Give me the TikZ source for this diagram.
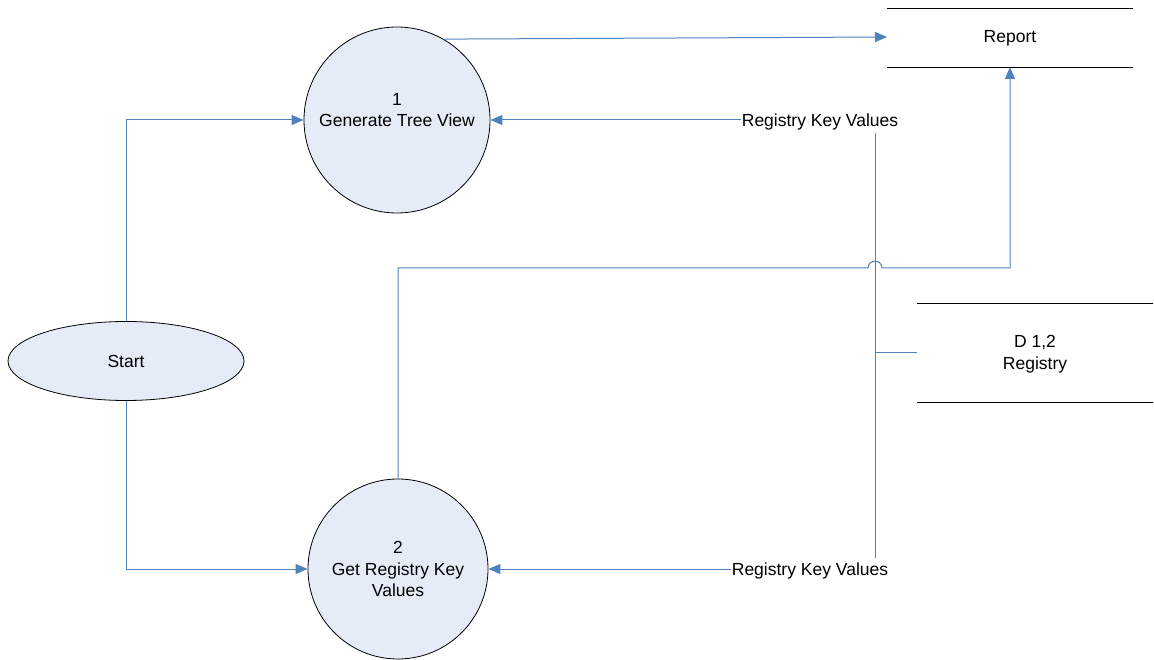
\documentclass[tikz,border=0pt]{standalone}
\usepackage{fontspec}
\setmainfont{Liberation Sans}
\usetikzlibrary{arrows.meta,shapes.geometric}
\definecolor{flow}{RGB}{79,129,189}
\definecolor{procfill}{RGB}{230,236,247}
\tikzset{
  every node/.style={font=\fontsize{17.5}{21.5}\selectfont, align=center},
  process/.style={circle, draw=black, line width=0.8pt, fill=procfill, inner sep=0pt},
  terminal/.style={ellipse, draw=black, line width=0.8pt, fill=procfill, inner sep=0pt},
  flowline/.style={draw=flow, line width=1pt},
  flowarrow/.style={flowline, -{Triangle[length=12pt,width=10pt]}},
  storeline/.style={draw=black, line width=0.9pt},
  lbl/.style={inner sep=1pt}
}
\begin{document}
\begin{tikzpicture}[x=1pt,y=-1pt]
\useasboundingbox (0,0) rectangle (1154,660);

% processes and terminator
\node[process, minimum size=186pt] (p1) at (397,120) {};
\node (p1text) at (397,110) {1\\Generate Tree View};
\node[process, minimum size=180pt] (p2) at (398,569) {2\\Get Registry Key\\Values};
\node[terminal, minimum width=236pt, minimum height=79pt] (start) at (126,361) {Start};

% data stores
\node (report) at (1010,38) {Report};
\draw[storeline] (887,8) -- (1133,8);
\draw[storeline] (887,67) -- (1133,67);
\coordinate (repB) at (1010,67);
\coordinate (repW) at (887,37);

\node (reg) at (1035,354) {D 1,2\\Registry};
\draw[storeline] (917,303) -- (1153,303);
\draw[storeline] (917,402) -- (1153,402);
\coordinate (regW) at (917,352);

% flow labels
\node[lbl] (k1) at (820,122) {Registry Key Values};
\node[lbl] (k2) at (810,571) {Registry Key Values};
\coordinate (j) at (875,352);

% flows from start
\draw[flowarrow] (start.north) |- (p1.west);
\draw[flowarrow] (start.south) |- (p2.west);

% tree view to report
\draw[flowarrow] (p1.60) -- (repW);

% registry key values into both processes
\draw[flowarrow] (k1.west |- p1.east) -- (p1.east);
\draw[flowarrow] (k2.west |- p2.east) -- (p2.east);
\draw[flowline] (875,133) -- (875,558);
\draw[flowline] (regW) -- (j);

% key values to report, hopping over the registry line
\draw[flowarrow] (p2.north) -- (398,268) -- (868,268)
  .. controls (868,259) and (882,259) .. (882,268) -- (1010,268) -- (repB);
\end{tikzpicture}
\end{document}
